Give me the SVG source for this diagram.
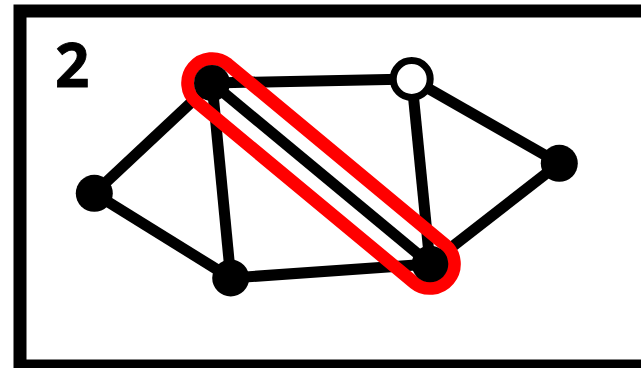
<svg xmlns="http://www.w3.org/2000/svg" width="641" height="368" viewBox="0 0 641 368">
<style>
.edge{stroke:#000;stroke-width:11;fill:none}
.node{fill:#000}
.open{fill:#fff;stroke:#000;stroke-width:7}
.hl{fill:none;stroke:#ff0000;stroke-width:13}
</style>
<rect x="20" y="11" width="640" height="355" fill="#fff" stroke="#000" stroke-width="13"/>
<text x="55" y="87" font-family="'Open Sans', 'Liberation Sans', Arial, sans-serif" font-weight="bold" font-size="60" stroke="#000" stroke-width="0.8" fill="#000">2</text>
<g id="connectors">
<line class="edge" x1="212" y1="83" x2="411.7" y2="79"/>
<line class="edge" x1="212" y1="83" x2="94.3" y2="193.3"/>
<line class="edge" x1="212" y1="83" x2="230.7" y2="278"/>
<line class="edge" x1="212" y1="83" x2="430" y2="264"/>
<line class="edge" x1="411.7" y1="79" x2="430" y2="264"/>
<line class="edge" x1="411.7" y1="79" x2="559.3" y2="163.3"/>
<line class="edge" x1="559.3" y1="163.3" x2="430" y2="264"/>
<line class="edge" x1="94.3" y1="193.3" x2="230.7" y2="278"/>
<line class="edge" x1="230.7" y1="278" x2="430" y2="264"/>
</g>
<g id="highlight">
<path class="hl" d="M227.66 64.16 L445.66 245.16 A24.5 24.5 0 0 1 414.34 282.84 L196.34 101.84 A24.5 24.5 0 0 1 227.66 64.16 Z"/>
</g>
<g id="nA"><circle class="node" cx="212" cy="83" r="18"/></g>
<g id="nB"><circle class="open" cx="411.7" cy="79" r="18.5"/></g>
<g id="nC"><circle class="node" cx="559.3" cy="163.3" r="18.5"/></g>
<g id="nD"><circle class="node" cx="94.3" cy="193.3" r="18.5"/></g>
<g id="nE"><circle class="node" cx="230.7" cy="278" r="18.5"/></g>
<g id="nF"><circle class="node" cx="430" cy="264" r="18.3"/></g>
</svg>
